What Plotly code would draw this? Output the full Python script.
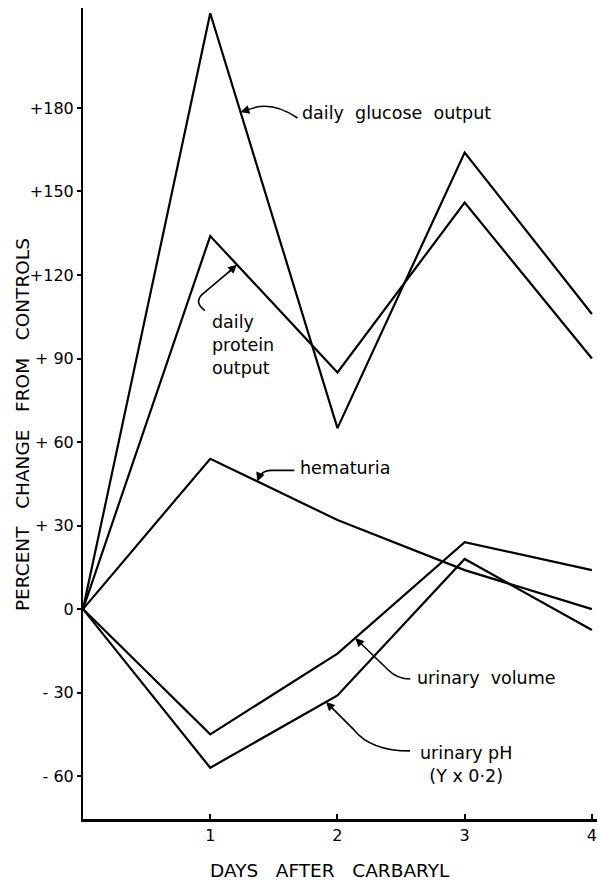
import numpy as np
import plotly.graph_objects as go

days = [0, 1, 2, 3, 4]
glucose = [0, 214, 65, 164, 106]
protein = [0, 134, 85, 146, 90]
hematuria = [0, 54, 32, 14, 0]
volume = [0, -45, -16, 24, 14]
ph_scaled = [0, -57, -31, 18, -7.5]

ytick_vals = [180, 150, 120, 90, 60, 30, 0, -30, -60]
ytick_text = ["+180", "+150", "+120", "+ 90", "+ 60", "+ 30", "0", "- 30", "- 60"]
xtick_vals = [1, 2, 3, 4]
xtick_text = ["1", "2", "3", "4"]

FONT = "DejaVu Sans"
NB = "\u00a0"

fig = go.Figure()
series = [glucose, protein, hematuria, volume, ph_scaled]
for s in series:
    fig.add_trace(go.Scatter(x=days, y=s, mode="lines",
                             line=dict(color="black", width=2.2),
                             showlegend=False, hoverinfo="skip"))

# label text, series, target x on line, text x, text y, anchor, leader path (pixels, y up), arrow tail offset
labels = [
    ("daily" + NB*2 + "glucose" + NB*2 + "output", glucose, 1.238, 1.706, 178.2, "left",
     "M 3,0 Q 28,14 57,-6", 10, -3),
    ("daily<br>protein<br>output", protein, 1.21, 0.998, 94.9, "left",
     "M -3,-3 L -35,-30 Q -43,-38 -32,-46", -10, 9),
    ("hematuria", hematuria, 1.37, 1.69, 50.7, "left",
     "M 2,3 Q 4,11 14,11 L 37,11", 3, -8),
    ("urinary" + NB*2 + "volume", volume, 2.14, 2.61, -24.8, "left",
     "M 3,-3 L 33,-32 Q 42,-41 55,-41", 8, 8),
    ("urinary" + NB + "pH<br>(Y" + NB + "x" + NB + "0·2)", ph_scaled, 1.91, 3.01, -55.7, "center",
     "M 3,-3 L 28,-28 Q 45,-49 84,-49", 8, 8),
]

annotations = []
shapes = []
for text, s, tx, lx, ly, anchor, path, ax, ay in labels:
    ty = float(np.interp(tx, days, s))
    annotations.append(dict(x=lx, y=ly, xref="x", yref="y", text=text, showarrow=False,
                            xanchor=anchor, yanchor="middle", align=anchor,
                            font=dict(family=FONT, size=17.5, color="black")))
    annotations.append(dict(x=tx, y=ty, xref="x", yref="y", text="", showarrow=True,
                            ax=ax, ay=ay, axref="pixel", ayref="pixel",
                            arrowhead=2, arrowsize=1.1, arrowwidth=1.6, arrowcolor="black"))
    shapes.append(dict(type="path", xref="x", yref="y", xsizemode="pixel", ysizemode="pixel",
                       xanchor=tx, yanchor=ty, path=path,
                       line=dict(color="black", width=1.6)))

annotations.append(dict(text=("PERCENT" + NB*3 + "CHANGE" + NB*3 + "FROM" + NB*3 + "CONTROLS"),
                        xref="paper", yref="paper", x=-0.1187, y=0.487, textangle=-90,
                        showarrow=False, xanchor="center", yanchor="middle",
                        font=dict(family=FONT, size=18.5, color="black")))
annotations.append(dict(text=("DAYS" + NB*3 + "AFTER" + NB*3 + "CARBARYL"),
                        xref="paper", yref="paper", x=0.4805, y=-0.0629,
                        showarrow=False, xanchor="center", yanchor="middle",
                        font=dict(family=FONT, size=18.5, color="black")))

fig.update_layout(
    width=598, height=881,
    margin=dict(l=83, r=1, t=8, b=62),
    paper_bgcolor="white", plot_bgcolor="white",
    annotations=annotations, shapes=shapes,
    xaxis=dict(range=[0, 4.04], tickvals=xtick_vals, ticktext=xtick_text,
               showgrid=False, zeroline=False, showline=True, linecolor="black", linewidth=2.5,
               ticks="inside", ticklen=5, tickwidth=1.5, tickcolor="black",
               tickfont=dict(family=FONT, size=16, color="black")),
    yaxis=dict(range=[-75.4, 215.9], tickvals=ytick_vals, ticktext=ytick_text,
               showgrid=False, zeroline=False, showline=True, linecolor="black", linewidth=2,
               ticks="outside", ticklen=4, tickwidth=1.5, tickcolor="black",
               tickfont=dict(family=FONT, size=16, color="black")),
)

fig.write_html("out.html", config={"displayModeBar": False},
               post_script="document.body.style.margin='0';document.body.style.overflow='hidden';")
